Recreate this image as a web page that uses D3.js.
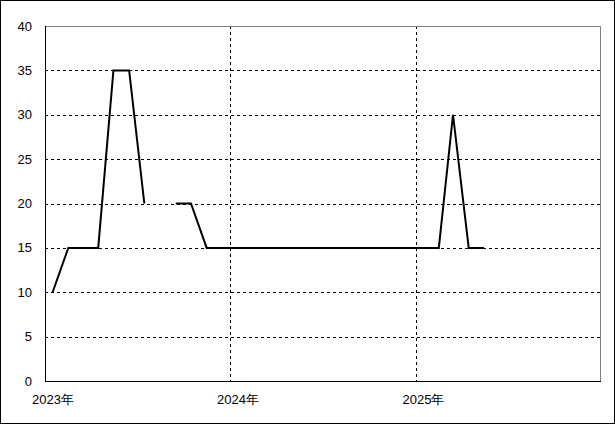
<!DOCTYPE html>
<html><head><meta charset="utf-8">
<script src="https://cdn.jsdelivr.net/npm/d3@7"></script>
<style>body{margin:0;background:#fff}svg{display:block}text{font-family:"Liberation Sans",Arial,sans-serif;font-size:13px;fill:#000}</style>
</head><body><svg id="c" width="615" height="424"></svg>
<script>
const months = ["2023-01","2023-02","2023-03","2023-04","2023-05","2023-06","2023-07","2023-08","2023-09","2023-10","2023-11","2023-12",
"2024-01","2024-02","2024-03","2024-04","2024-05","2024-06","2024-07","2024-08","2024-09","2024-10","2024-11","2024-12",
"2025-01","2025-02","2025-03","2025-04","2025-05"];
const values = [10,15,15,15,35,35,20,null,20,20,15,15,
15,15,15,15,15,15,15,15,15,15,15,15,
15,15,30,15,15];
const yTicks = [0,5,10,15,20,25,30,35,40];
const xTickLabels = ["2023年","2024年","2025年"];
const xTickDates = ["2023-01-01","2024-01-01","2025-01-01"];

const svg = d3.select("#c");
const L=45, R=600.5, T=26, B=381;
const parse = d3.timeParse("%Y-%m-%d");
const x = d3.scaleTime().domain([parse("2023-01-01"), parse("2026-01-01")]).range([L,R]);
const y = d3.scaleLinear().domain([0,40]).range([B,T]);

svg.append("rect").attr("x",0.5).attr("y",0.5).attr("width",614).attr("height",423).attr("fill","none").attr("stroke","#000");

svg.append("g").selectAll("line").data(yTicks.filter(d=>d>0&&d<40)).join("line")
 .attr("x1",L).attr("x2",R).attr("y1",d=>Math.round(y(d))+0.5).attr("y2",d=>Math.round(y(d))+0.5)
 .attr("stroke","#000").attr("stroke-dasharray","3,3");
svg.append("g").selectAll("line").data(xTickDates.slice(1)).join("line")
 .attr("x1",d=>Math.round(x(parse(d)))+0.5).attr("x2",d=>Math.round(x(parse(d)))+0.5).attr("y1",T).attr("y2",B)
 .attr("stroke","#000").attr("stroke-dasharray","3,3");

svg.append("line").attr("x1",L).attr("x2",R).attr("y1",T+0.5).attr("y2",T+0.5).attr("stroke","#808080");
svg.append("line").attr("x1",R).attr("x2",R).attr("y1",T).attr("y2",B).attr("stroke","#808080");
svg.append("line").attr("x1",L+0.5).attr("x2",L+0.5).attr("y1",T).attr("y2",B+0.5).attr("stroke","#000");
svg.append("line").attr("x1",L).attr("x2",R+0.5).attr("y1",B+0.5).attr("y2",B+0.5).attr("stroke","#000");

svg.append("g").selectAll("text").data(yTicks).join("text")
 .attr("x",32).attr("y",d=>y(d)).attr("dy","0.35em").attr("text-anchor","end").text(d=>d);
svg.append("g").selectAll("text").data(xTickDates).join("text")
 .attr("x",d=>x(parse(d))-13).attr("y",399.5).attr("dy","0.35em").attr("text-anchor","start")
 .text((d,i)=>xTickLabels[i]);

const data = months.map((m,i)=>({d:parse(m+"-16"),v:values[i]}));
const line = d3.line().defined(d=>d.v!==null).x(d=>x(d.d)).y(d=>y(d.v));
svg.append("path").datum(data).attr("d",line).attr("fill","none").attr("stroke","#000").attr("stroke-width",2);
</script></body></html>
